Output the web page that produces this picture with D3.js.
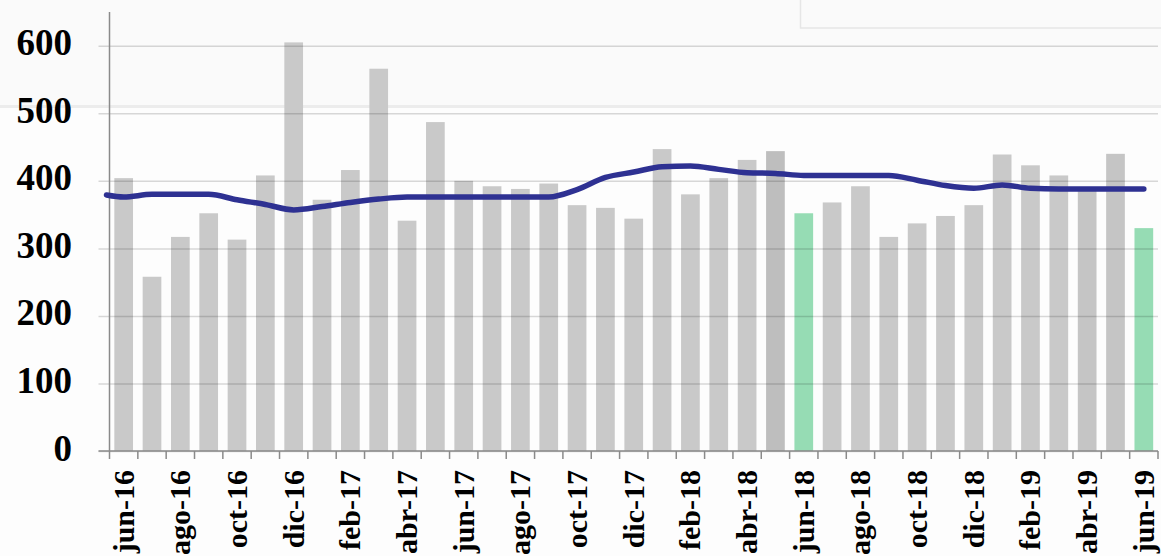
<!DOCTYPE html>
<html>
<head>
<meta charset="utf-8">
<script src="https://cdn.jsdelivr.net/npm/d3@7"></script>
<style>
  html, body { margin: 0; padding: 0; background: #ffffff; }
  svg { display: block; }
</style>
</head>
<body>
<svg id="chart" width="1161" height="556"></svg>
<script>
const categories = ['jun-16','jul-16','ago-16','sep-16','oct-16','nov-16','dic-16','ene-17','feb-17','mar-17','abr-17','may-17',
  'jun-17','jul-17','ago-17','sep-17','oct-17','nov-17','dic-17','ene-18','feb-18','mar-18','abr-18','may-18',
  'jun-18','jul-18','ago-18','sep-18','oct-18','nov-18','dic-18','ene-19','feb-19','mar-19','abr-19','may-19','jun-19'];
const barValues = [404,258,317,352,313,408,605,372,416,566,341,487,
  400,392,388,396,364,360,344,447,380,404,431,444,
  352,368,392,317,337,348,364,439,423,408,385,440,330];
const lineValues = [376,380,380,380,372,365,357,362,368,373,376,376,
  376,376,376,376,387,405,413,421,422,417,412,411,
  408,408,408,408,401,393,389,394,389,388,388,388,388];
const lineStartValue = 379;
const greenMonths = ['jun-18','jun-19'];
const darkMonths = ['may-18'];
const midMonths = ['abr-19','may-19'];
const yTicks = [0,100,200,300,400,500,600];
const xLabelEvery = 2;

(function () {
const svg = d3.select('#chart');
const W = 1161, H = 556;
const pLeft = 109.5, pRight = 1158, pTop = 12, pBottom = 451;

// background panels
svg.append('rect').attr('x',0).attr('y',0).attr('width',W).attr('height',H).attr('fill','#fdfdfd');
svg.append('rect').attr('x',0).attr('y',0).attr('width',W).attr('height',106).attr('fill','#fafafa');
svg.append('line').attr('x1',0).attr('x2',W).attr('y1',106.5).attr('y2',106.5)
  .attr('stroke','#ececec').attr('stroke-width',3);
// partial legend box at the top right
svg.append('rect').attr('x',800.5).attr('y',-10).attr('width',400).attr('height',38)
  .attr('fill','#fafafa').attr('stroke','#e6e6e6').attr('stroke-width',1.5);

const x = d3.scaleBand().domain(categories).range([pLeft, pRight]).paddingInner(0.34).paddingOuter(0.17);
const y = d3.scaleLinear().domain([0, 650]).range([pBottom, pTop]);

// bars
svg.append('g').selectAll('rect').data(categories).join('rect')
  .attr('x', d => x(d))
  .attr('width', x.bandwidth())
  .attr('y', (d,i) => y(barValues[i]))
  .attr('height', (d,i) => y(0) - y(barValues[i]))
  .attr('fill', d => greenMonths.includes(d) ? '#96dcb4' : darkMonths.includes(d) ? '#bebebe' : midMonths.includes(d) ? '#c5c5c5' : '#c9c9c9');

// gridlines + y ticks (drawn over bars, semi transparent)
const yAxis = d3.axisLeft(y).tickValues(yTicks).tickSize(-(pRight - pLeft)).tickSizeOuter(0).tickFormat('');
const gy = svg.append('g').attr('transform', `translate(${pLeft},0)`).call(yAxis);
gy.select('.domain').remove();
gy.selectAll('.tick line').attr('stroke','rgba(0,0,0,0.15)').attr('stroke-width',1.5).attr('x1',-11);

// y labels
svg.append('g').selectAll('text').data(yTicks).join('text')
  .attr('x', 72).attr('y', d => y(d) + 9.5)
  .attr('text-anchor','end')
  .attr('font-family','"Liberation Serif", "Times New Roman", serif')
  .attr('font-weight','bold').attr('font-size', 37).attr('fill','#000')
  .text(d => d);

// y axis line
svg.append('line').attr('x1',pLeft).attr('x2',pLeft).attr('y1',pTop).attr('y2',pBottom)
  .attr('stroke','#8a8a8a').attr('stroke-width',1.5);

// x axis line and ticks at category boundaries
svg.append('line').attr('x1',pLeft - 11).attr('x2',pRight).attr('y1',pBottom).attr('y2',pBottom)
  .attr('stroke','#8a8a8a').attr('stroke-width',1.5);
const step = x.step();
const boundaries = d3.range(categories.length + 1).map(k => x(categories[0]) - step * 0.17 + k * step);
svg.append('g').selectAll('line').data(boundaries).join('line')
  .attr('x1', d => d).attr('x2', d => d).attr('y1', pBottom).attr('y2', pBottom + 8)
  .attr('stroke','#8a8a8a').attr('stroke-width',1.5);

// x labels
svg.append('g').selectAll('text').data(categories.filter((d,i) => i % xLabelEvery === 0)).join('text')
  .attr('transform', d => `translate(${x(d) + x.bandwidth()/2 + 10},470) rotate(-90)`)
  .attr('text-anchor','end')
  .attr('font-family','"Liberation Serif", "Times New Roman", serif')
  .attr('font-weight','bold').attr('font-size', 30).attr('fill','#000')
  .text(d => d);

// line
const pts = [[pLeft - 3, y(lineStartValue)]].concat(
  categories.map((d,i) => [x(d) + x.bandwidth()/2, y(lineValues[i])]));
svg.append('path')
  .attr('d', d3.line().curve(d3.curveMonotoneX)(pts))
  .attr('fill','none').attr('stroke','#2e3192').attr('stroke-width',5.5)
  .attr('stroke-linecap','round').attr('stroke-linejoin','round');
})();
</script>
</body>
</html>
